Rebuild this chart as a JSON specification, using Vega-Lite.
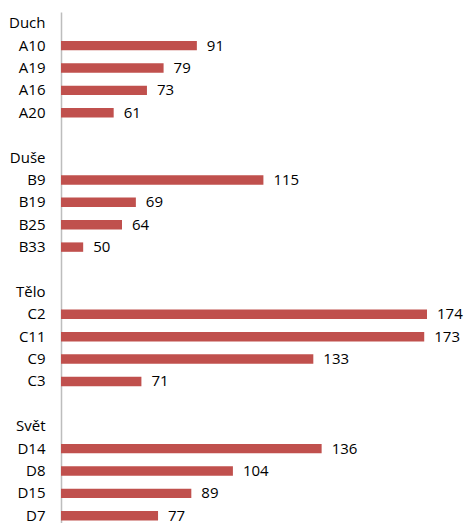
{
  "$schema": "https://vega.github.io/schema/vega-lite/v6.json",
  "autosize": "none",
  "width": 366,
  "height": 515,
  "padding": {"left": 61, "top": 12, "right": 39, "bottom": 0},
  "background": "white",
  "config": {"view": {"stroke": null}, "font": "Open Sans"},
  "data": {"values": [
    {"cat": "Duch", "value": null},
    {"cat": "A10", "value": 91},
    {"cat": "A19", "value": 79},
    {"cat": "A16", "value": 73},
    {"cat": "A20", "value": 61},
    {"cat": " ", "value": null},
    {"cat": "Duše", "value": null},
    {"cat": "B9", "value": 115},
    {"cat": "B19", "value": 69},
    {"cat": "B25", "value": 64},
    {"cat": "B33", "value": 50},
    {"cat": "  ", "value": null},
    {"cat": "Tělo", "value": null},
    {"cat": "C2", "value": 174},
    {"cat": "C11", "value": 173},
    {"cat": "C9", "value": 133},
    {"cat": "C3", "value": 71},
    {"cat": "   ", "value": null},
    {"cat": "Svět", "value": null},
    {"cat": "D14", "value": 136},
    {"cat": "D8", "value": 104},
    {"cat": "D15", "value": 89},
    {"cat": "D7", "value": 77}
  ]},
  "encoding": {
    "y": {
      "field": "cat", "type": "nominal",
      "scale": {"domain": ["Duch","A10","A19","A16","A20"," ","Duše","B9","B19","B25","B33","  ","Tělo","C2","C11","C9","C3","   ","Svět","D14","D8","D15","D7"], "paddingInner": 0.58, "paddingOuter": 0.29},
      "axis": {"title": null, "ticks": false, "labelPadding": 16, "labelFontSize": 15, "labelColor": "#000000", "labelFont": "Open Sans", "domainColor": "#BDBDBD", "domainWidth": 1.5, "grid": false}
    }
  },
  "layer": [
    {
      "mark": {"type": "bar", "color": "#C0504D"},
      "encoding": {
        "x": {"field": "value", "type": "quantitative", "scale": {"domain": [42, 174], "zero": false, "nice": false}, "axis": null},
        "x2": {"datum": 42}
      }
    },
    {
      "mark": {"type": "text", "align": "left", "dx": 10, "fontSize": 15, "color": "#000000", "font": "Open Sans"},
      "encoding": {
        "x": {"field": "value", "type": "quantitative"},
        "text": {"field": "value", "type": "quantitative"}
      }
    }
  ]
}
